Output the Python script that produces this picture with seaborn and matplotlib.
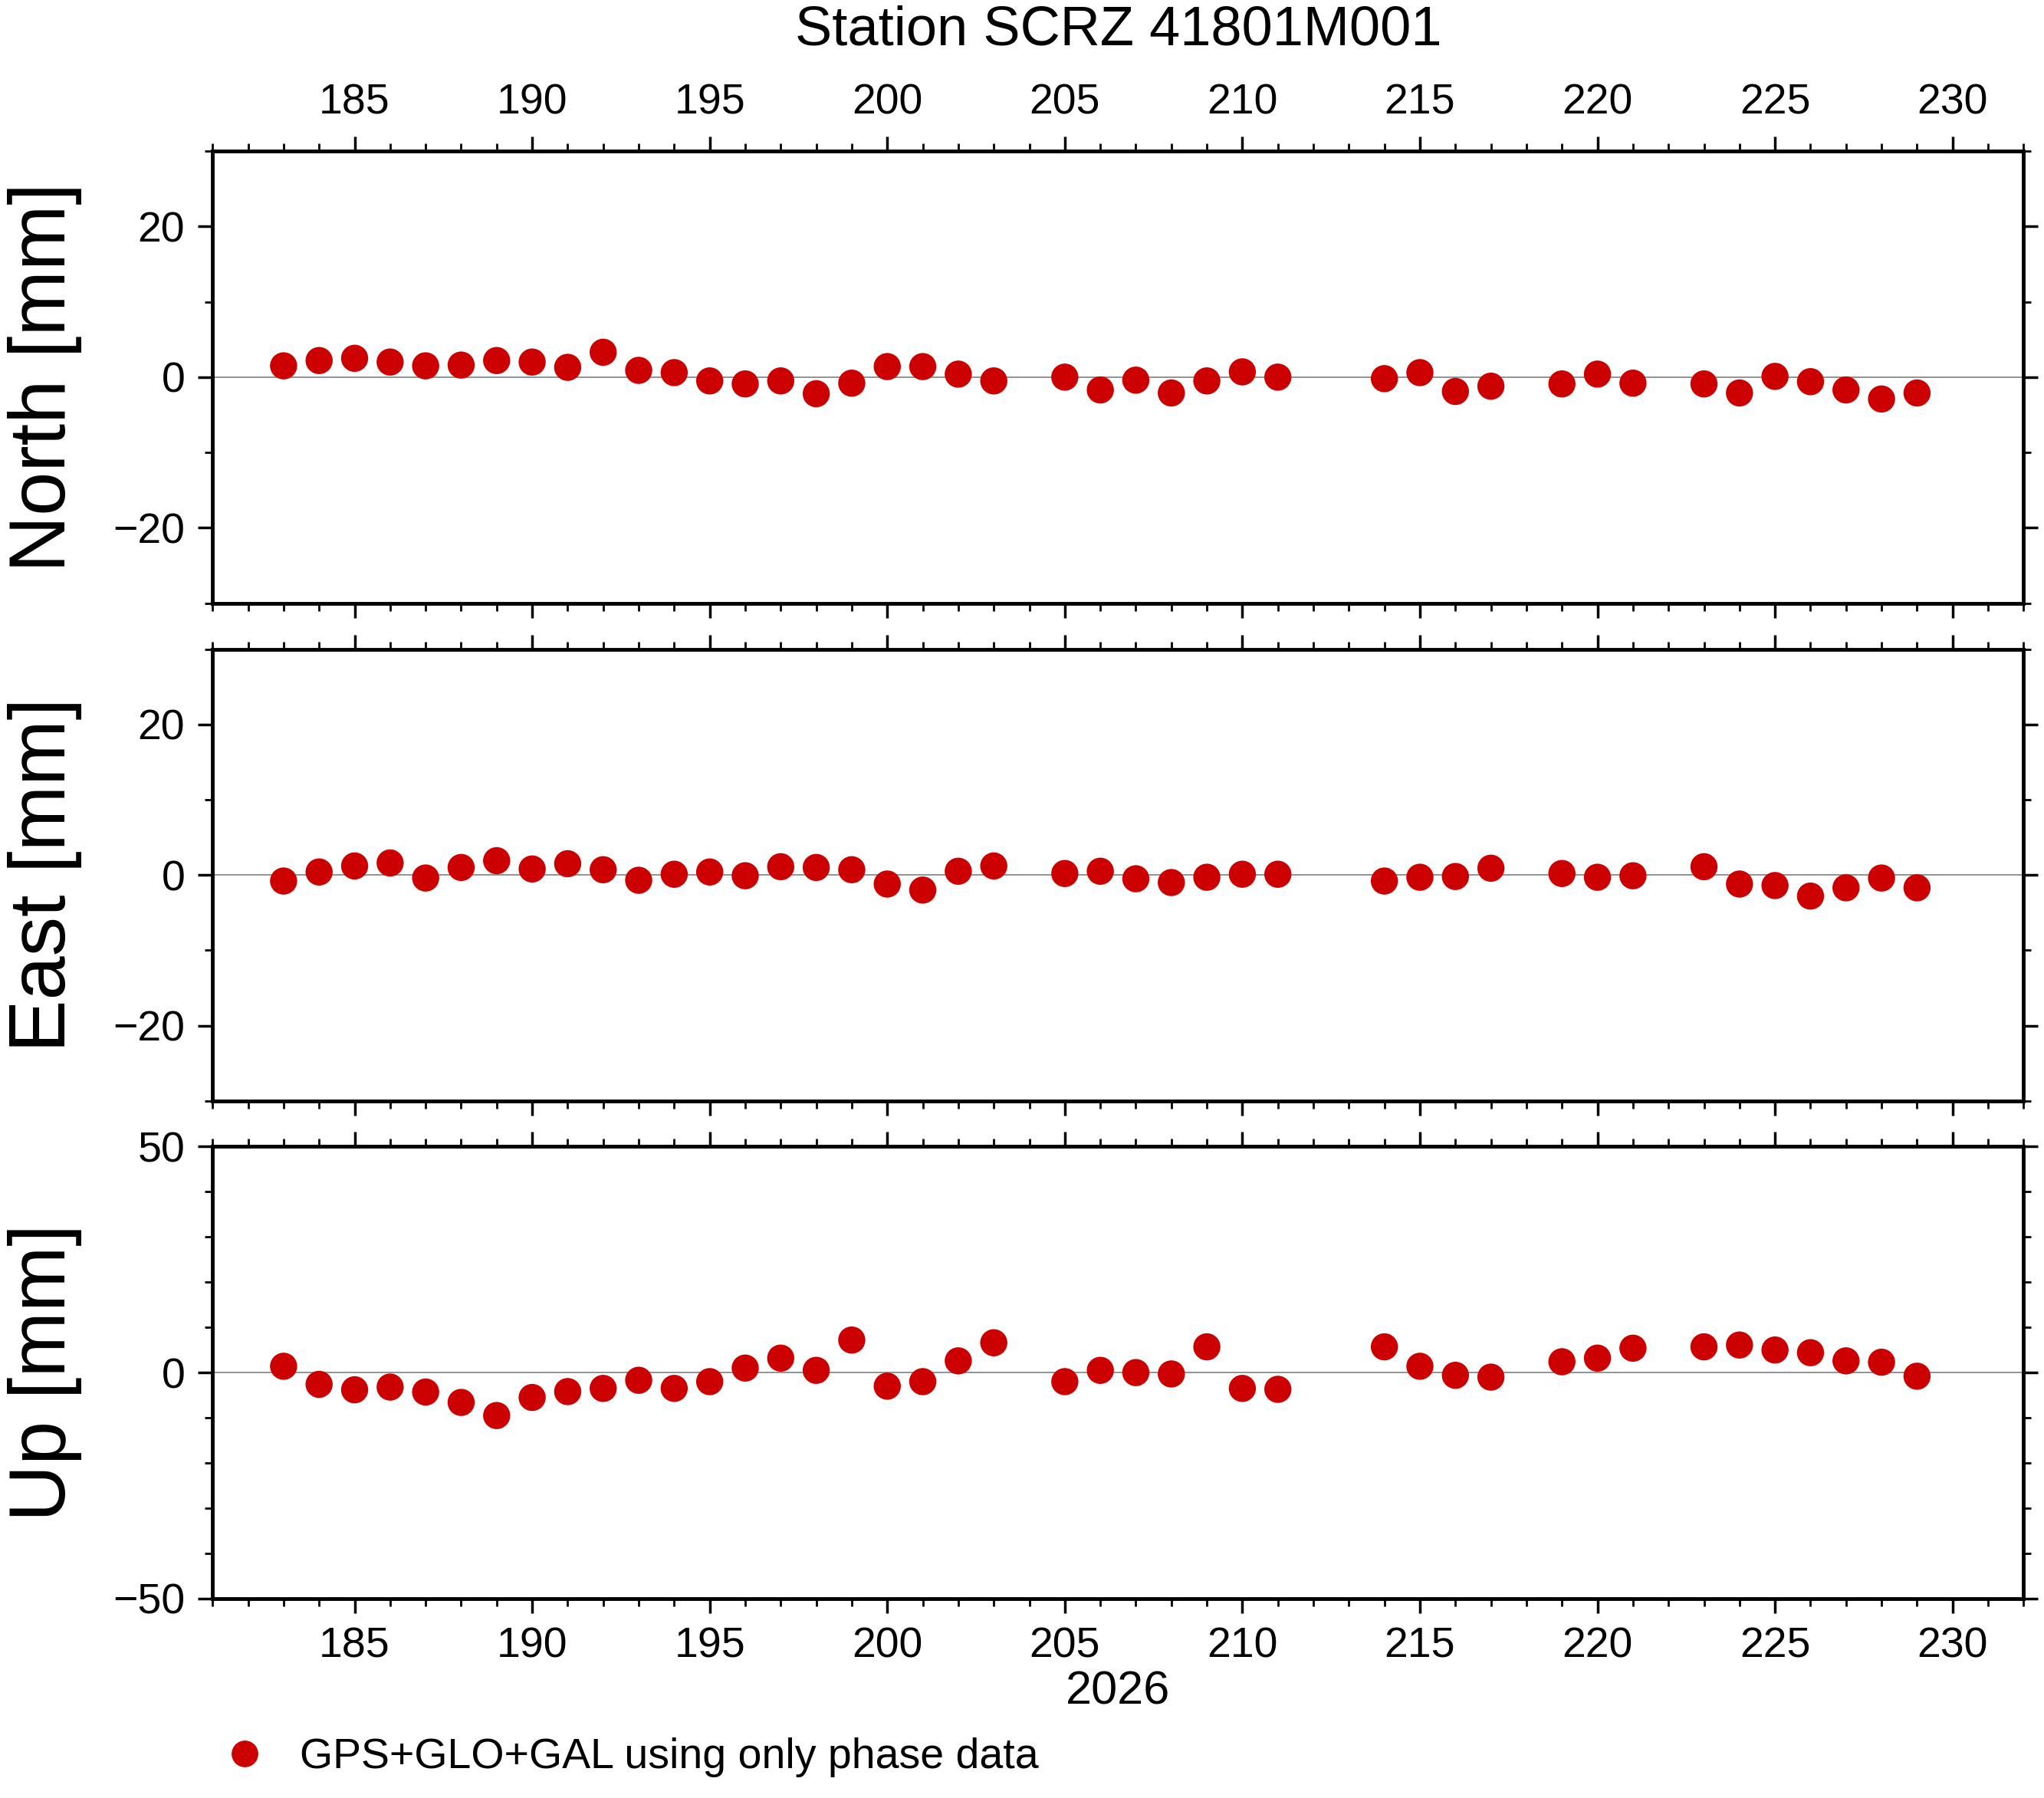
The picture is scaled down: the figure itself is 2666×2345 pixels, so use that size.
import matplotlib
matplotlib.use("Agg")
import matplotlib.pyplot as plt
import seaborn as sns
import pandas as pd
from matplotlib.ticker import MultipleLocator
from matplotlib.lines import Line2D

sns.set_style("white")
plt.rcParams['font.family'] = ['Liberation Sans', 'DejaVu Sans']
plt.rcParams['text.color'] = 'black'
plt.rcParams['axes.labelcolor'] = 'black'
plt.rcParams['xtick.color'] = 'black'
plt.rcParams['ytick.color'] = 'black'

days = [183,184,185,186,187,188,189,190,191,192,193,194,195,196,197,198,199,200,201,202,203,
        205,206,207,208,209,210,211, 214,215,216,217, 219,220,221, 223,224,225,226,227,228,229]
north = [1.5,2.2,2.5,2,1.5,1.6,2.2,2,1.3,3.3,0.9,0.6,-0.5,-0.9,-0.5,-2.2,-0.8,1.4,1.4,0.4,-0.5,
         0,-1.7,-0.4,-2.1,-0.5,0.7,0, -0.2,0.6,-1.9,-1.2, -0.9,0.4,-0.8, -0.9,-2.1,0.1,-0.6,-1.7,-2.9,-2.1]
east = [-0.8,0.4,1.2,1.6,-0.4,1,1.9,0.8,1.5,0.7,-0.7,0.1,0.4,-0.1,1.1,1,0.7,-1.2,-2,0.5,1.2,
        0.2,0.5,-0.5,-1,-0.3,0.1,0.1, -0.8,-0.3,-0.2,0.9, 0.2,-0.3,-0.1, 1.1,-1.2,-1.4,-2.8,-1.7,-0.4,-1.7]
up = [1.4,-2.6,-3.8,-3.2,-4.3,-6.6,-9.5,-5.5,-4.2,-3.5,-1.7,-3.5,-2,1,3.2,0.5,7.2,-3,-2,2.6,6.6,
      -2,0.5,0,-0.3,5.7,-3.5,-3.7, 5.7,1.4,-0.6,-1, 2.4,3.2,5.4, 5.7,6.1,5,4.4,2.6,2.3,-0.8]
labels = ["North [mm]", "East [mm]", "Up [mm]"]
title = "Station SCRZ 41801M001"
year = "2026"
legend_text = "GPS+GLO+GAL using only phase data"

df = pd.DataFrame({"day": days, "North": north, "East": east, "Up": up})
red = "#cc0000"

fig = plt.figure(figsize=(26.66, 23.45), dpi=100)
L, R = 0.104, 0.990
boxes = [(0.6645, 0.916), (0.3877, 0.639), (0.1109, 0.3623)]
cols = ["North", "East", "Up"]
ylims = [(-30, 30), (-30, 30), (-50, 50)]
ymaj = [20, 20, 50]
ymin = [10, 10, 10]
TS = 40
for i, (b, t) in enumerate(boxes):
    ax = fig.add_axes([L, b, R - L, t - b])
    ax.axhline(0, color="gray", lw=1.2, zorder=1)
    sns.scatterplot(data=df, x="day", y=cols[i], ax=ax, color=red, s=650,
                    edgecolor="none", zorder=3, legend=False)
    ax.set_xlim(181, 232)
    ax.set_ylim(*ylims[i])
    ax.xaxis.set_major_locator(MultipleLocator(5))
    ax.xaxis.set_minor_locator(MultipleLocator(1))
    ax.yaxis.set_major_locator(MultipleLocator(ymaj[i]))
    ax.yaxis.set_minor_locator(MultipleLocator(ymin[i]))
    for s in ax.spines.values():
        s.set_linewidth(3.5)
        s.set_color("black")
    ax.tick_params(which="major", direction="out", length=14, width=2.5,
                   top=True, bottom=True, left=True, right=True,
                   labeltop=(i == 0), labelbottom=(i == 2), labelsize=TS, pad=12)
    ax.tick_params(which="minor", direction="out", length=7, width=2,
                   top=True, bottom=True, left=True, right=True)
    ax.set_xlabel(year if i == 2 else "", fontsize=TS + 4, labelpad=4)
    ax.set_ylabel(labels[i], fontsize=74)
    ax.yaxis.set_label_coords(-0.072, 0.5)
    if i == 0:
        ax.set_title(title, fontsize=52, pad=100)

h = Line2D([], [], marker="o", color=red, ls="none", markersize=24)
fig.legend([h], [legend_text], loc="lower left", bbox_to_anchor=(0.08, -0.01),
           frameon=False, fontsize=TS, handletextpad=0.3)
fig.savefig("out.png", dpi=100)
